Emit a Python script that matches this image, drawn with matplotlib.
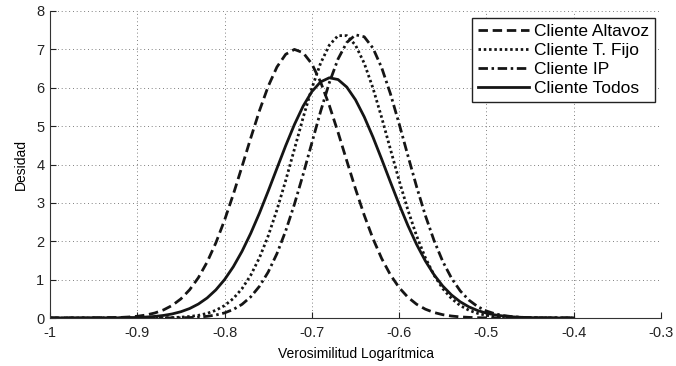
import matplotlib
matplotlib.use('Agg')
import matplotlib.pyplot as plt

plt.rcParams['font.family'] = ['Liberation Sans', 'DejaVu Sans']

# --------------------------- data ---------------------------
x_vals = [-1.00, -0.96,
          -0.92, -0.91, -0.90, -0.89, -0.88, -0.87, -0.86, -0.85, -0.84, -0.83,
          -0.82, -0.81, -0.80, -0.79, -0.78, -0.77, -0.76, -0.75, -0.74, -0.73,
          -0.72, -0.71, -0.70, -0.69, -0.68, -0.67, -0.66, -0.65, -0.64, -0.63,
          -0.62, -0.61, -0.60, -0.59, -0.58, -0.57, -0.56, -0.55, -0.54, -0.53,
          -0.52, -0.51, -0.50, -0.49, -0.48, -0.47, -0.46, -0.45, -0.44, -0.43,
          -0.42, -0.40]

altavoz = [0.0, 0.002,
           0.014, 0.026, 0.045, 0.078, 0.130, 0.210, 0.328, 0.499, 0.736, 1.051,
           1.456, 1.957, 2.550, 3.222, 3.948, 4.691, 5.404, 6.038, 6.541, 6.871,
           6.999, 6.913, 6.622, 6.150, 5.539, 4.838, 4.097, 3.364, 2.679, 2.069,
           1.549, 1.125, 0.792, 0.541, 0.358, 0.230, 0.143, 0.086, 0.051, 0.029,
           0.016, 0.008, 0.004, 0.002, 0.001, 0.0, 0.0, 0.0, 0.0, 0.0,
           0.0, 0.0]

t_fijo = [0.0, 0.0,
          0.0001, 0.0002, 0.0006, 0.0013, 0.0027, 0.0055, 0.011, 0.021, 0.039, 0.069,
          0.120, 0.201, 0.324, 0.507, 0.765, 1.116, 1.572, 2.140, 2.817, 3.581,
          4.399, 5.222, 5.990, 6.639, 7.110, 7.358, 7.358, 7.110, 6.639, 5.990,
          5.222, 4.399, 3.581, 2.817, 2.140, 1.572, 1.116, 0.765, 0.507, 0.324,
          0.201, 0.120, 0.069, 0.039, 0.021, 0.011, 0.0055, 0.0027, 0.0013, 0.0006,
          0.0002, 0.0]

ip = [0.0, 0.0,
      0.0, 0.0001, 0.0001, 0.0003, 0.0006, 0.0015, 0.0031, 0.0063, 0.012, 0.024,
      0.044, 0.078, 0.133, 0.222, 0.356, 0.552, 0.827, 1.198, 1.677, 2.268,
      2.963, 3.741, 4.565, 5.382, 6.131, 6.749, 7.179, 7.379, 7.328, 7.033,
      6.522, 5.844, 5.060, 4.233, 3.422, 2.673, 2.018, 1.472, 1.038, 0.706,
      0.465, 0.296, 0.182, 0.108, 0.062, 0.034, 0.018, 0.0095, 0.0048, 0.0023,
      0.0011, 0.0002]

todos = [0.0, 0.001,
         0.005, 0.008, 0.014, 0.025, 0.041, 0.067, 0.106, 0.164, 0.247, 0.364,
         0.522, 0.732, 1.001, 1.335, 1.738, 2.208, 2.735, 3.307, 3.900, 4.489,
         5.040, 5.521, 5.900, 6.153, 6.260, 6.214, 6.018, 5.686, 5.242, 4.715,
         4.138, 3.543, 2.960, 2.412, 1.918, 1.488, 1.127, 0.832, 0.600, 0.422,
         0.289, 0.194, 0.126, 0.080, 0.050, 0.030, 0.018, 0.010, 0.006, 0.003,
         0.002, 0.0]

labels = ['Cliente Altavoz', 'Cliente T. Fijo', 'Cliente IP', 'Cliente Todos']
xticks = [-1, -0.9, -0.8, -0.7, -0.6, -0.5, -0.4, -0.3]
xtick_labels = ['-1', '-0.9', '-0.8', '-0.7', '-0.6', '-0.5', '-0.4', '-0.3']
yticks = [0, 1, 2, 3, 4, 5, 6, 7, 8]

# --------------------------- plotting ---------------------------
fig = plt.figure(figsize=(6.76, 3.66), dpi=100)
ax = fig.add_axes([50/676, 1 - 318/366, 611/676, 307/366])

lc = '#151515'
lw = 2.0
ax.plot(x_vals, altavoz, color=lc, lw=lw, ls=(0, (3.4, 1.7)), label=labels[0])
ax.plot(x_vals, t_fijo, color=lc, lw=lw, ls=(0, (0.9, 1.0)), label=labels[1])
ax.plot(x_vals, ip, color=lc, lw=lw, ls=(0, (3.4, 1.3, 0.9, 1.3)), label=labels[2])
ax.plot(x_vals, todos, color=lc, lw=lw, ls='-', label=labels[3])

ax.set_xlim(-1, -0.3)
ax.set_ylim(0, 8)
ax.set_xticks(xticks)
ax.set_xticklabels(xtick_labels)
ax.set_yticks(yticks)
ax.tick_params(direction='in', length=4, width=0.8, labelsize=10.5, colors='#222222',
               top=False, right=False)
ax.tick_params(axis='x', pad=6)
ax.tick_params(axis='y', pad=4)

ax.grid(True, color='#555555', linestyle=(0, (1, 3.5)), linewidth=0.6)
ax.set_axisbelow(True)
for s in ['top', 'right']:
    ax.spines[s].set_visible(False)
for s in ['left', 'bottom']:
    ax.spines[s].set_color('#333333')
    ax.spines[s].set_linewidth(0.8)

ax.set_xlabel('Verosimilitud Logarítmica', fontsize=10, labelpad=5)
ax.set_ylabel('Desidad', fontsize=10, labelpad=6)

leg = ax.legend(loc='upper right', bbox_to_anchor=(655/676, 1 - 18/366),
                bbox_transform=fig.transFigure, borderaxespad=0,
                fancybox=False, framealpha=1, edgecolor='#222222',
                fontsize=12.5, handlelength=2.9, handletextpad=0.3,
                labelspacing=0.22, borderpad=0.35)
leg.get_frame().set_linewidth(1.0)

plt.savefig('out.png', dpi=100)
